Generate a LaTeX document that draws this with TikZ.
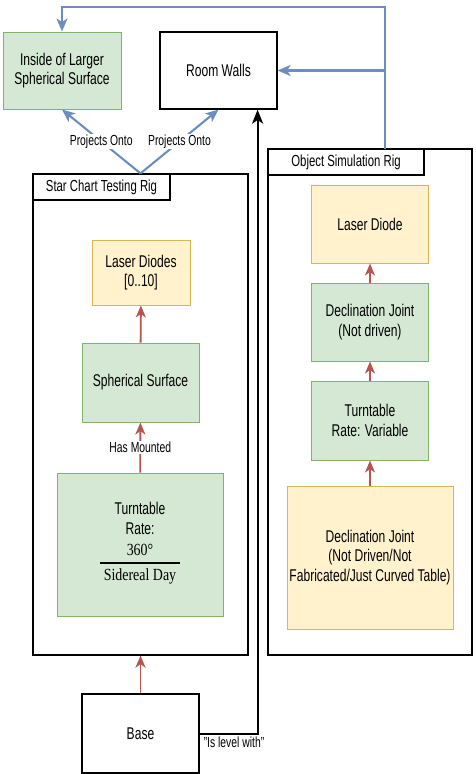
\documentclass[tikz,border=0pt]{standalone}
\usepackage{fontspec}
\setmainfont{Liberation Sans}[FakeStretch=0.71]
\newfontfamily\fuenteserif{Liberation Serif}[FakeStretch=0.82]
\usetikzlibrary{arrows.meta,positioning}

\definecolor{verdefondo}{HTML}{D5E8D4}
\definecolor{verdeborde}{HTML}{82B366}
\definecolor{amarillofondo}{HTML}{FFF2CC}
\definecolor{amarilloborde}{HTML}{D6B656}
\definecolor{azul}{HTML}{6C8EBF}
\definecolor{rojo}{HTML}{B85450}

\tikzset{
  estilo rigs/.style={
      x=1pt, y=-1pt,
      caja/.style={rectangle, draw, line width=1pt, align=center, inner sep=2pt,
          font={\fontsize{17}{19.5}\selectfont}},
      blanca/.style={caja, fill=white, draw=black, line width=1.2pt},
      verde/.style={caja, fill=verdefondo, draw=verdeborde},
      amarilla/.style={caja, fill=amarillofondo, draw=amarilloborde},
      marco/.style={rectangle, draw, line width=1.2pt},
      titulo/.style={rectangle, draw, fill=white, line width=1.2pt, anchor=north west,
          font={\fontsize{16}{18}\selectfont}},
      flecha roja/.style={-{Stealth[length=12pt, width=10pt, inset=3.5pt]}, line width=1.9pt, draw=rojo},
      flecha azul/.style={-{Stealth[length=13pt, width=11pt, inset=3.5pt]}, line width=2.1pt, draw=azul},
      flecha negra/.style={-{Stealth[length=14pt, width=11pt, inset=3.5pt]}, line width=2pt, draw=black},
      etiqueta/.style={fill=white, inner sep=1pt, font={\fontsize{14.6}{16}\selectfont}},
    },
}

\begin{document}
\begin{tikzpicture}[estilo rigs]
  \useasboundingbox (0,0) rectangle (476,774);

  \node[verde, minimum width=118pt, minimum height=77pt] (interior) at (62,70.5) {Inside of Larger\\Spherical Surface};
  \node[blanca, minimum width=117pt, minimum height=77pt] (paredes) at (218.5,70.5) {Room Walls};

  \node[marco, minimum width=215pt, minimum height=481pt] (rig estrellas) at (140.5,414.5) {};
  \node[titulo, minimum width=137pt, minimum height=26pt] (titulo estrellas) at (rig estrellas.north west) {Star Chart Testing Rig};
  \node[amarilla, minimum width=98pt, minimum height=65pt] (diodos) at (141,272.5) {Laser Diodes\\{[0..10]}};
  \node[verde, minimum width=117pt, minimum height=79pt] (esfera) at (140.5,382.5) {Spherical Surface};
  \node[verde, minimum width=166pt, minimum height=143pt] (giro) at (140,544.5)
    {Turntable\\Rate:\\[6pt]{\fuenteserif\fontsize{17}{20}\selectfont\tabcolsep=4pt\arrayrulewidth=1.2pt
     \begin{tabular}{c}360°\\[1pt]\hline\rule{0pt}{17pt}Sidereal Day\end{tabular}}};
  \node[blanca, minimum width=117pt, minimum height=79pt] (base) at (140.5,733.5) {Base};

  \node[marco, minimum width=204pt, minimum height=506pt] (rig objeto) at (370,402) {};
  \node[titulo, minimum width=156pt, minimum height=26pt] (titulo objeto) at (rig objeto.north west) {Object Simulation Rig};
  \node[amarilla, minimum width=166pt, minimum height=143pt] (declinacion2) at (370,557.5)
    {Declination Joint\\(Not Driven/Not\\Fabricated/Just Curved Table)};
  \node[verde, minimum width=117pt, minimum height=79pt, above=25pt of declinacion2] (giro2) {Turntable\\Rate: Variable};
  \node[verde, minimum width=117pt, minimum height=78pt, above=19pt of giro2] (declinacion) {Declination Joint\\(Not driven)};
  \node[amarilla, minimum width=117pt, minimum height=78pt, above=19pt of declinacion] (laser) {Laser Diode};

  \coordinate (salida) at (385,149);
  \coordinate (esquina) at (385,7);
  \coordinate (llegada) at ([xshift=-20pt]paredes.south east);

  \draw[flecha roja] (esfera) -- (diodos);
  \draw[flecha roja] (giro) -- node[etiqueta] {Has Mounted} (esfera);
  \draw[flecha roja] (base) -- (rig estrellas);
  \draw[flecha roja] (declinacion) -- (laser);
  \draw[flecha roja] (giro2) -- (declinacion);
  \draw[flecha roja] (declinacion2) -- (giro2);

  \draw[flecha azul] (rig estrellas.north) -- node[etiqueta] {Projects Onto} (interior.south);
  \draw[flecha azul] (rig estrellas.north) -- node[etiqueta] {Projects Onto} (paredes.south);
  \draw[flecha azul] (salida) -- (esquina) -| (interior.north);
  \draw[flecha azul] (salida |- paredes.east) -- (paredes.east);

  \draw[flecha negra] (base.east) -| node[pos=0.01, below right, etiqueta, fill=none, inner sep=2pt] {"Is level with"} (llegada);
\end{tikzpicture}
\end{document}
